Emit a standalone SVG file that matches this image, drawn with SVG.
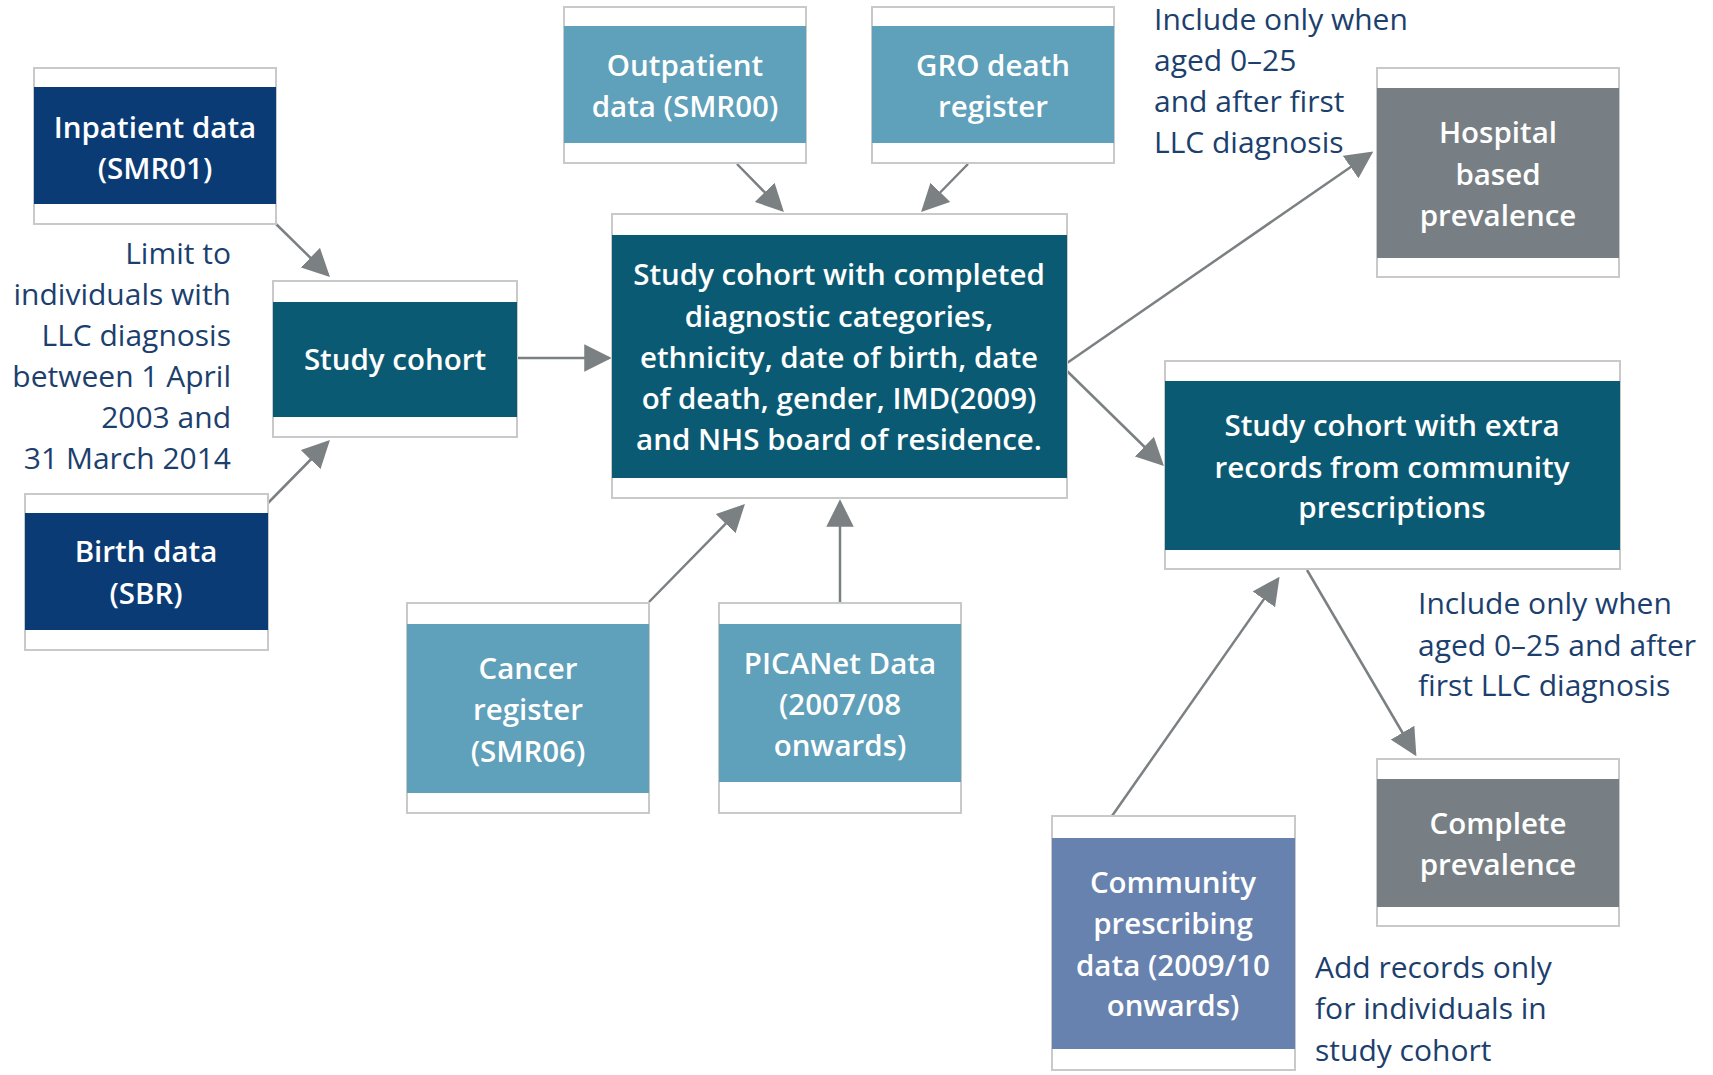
<svg xmlns="http://www.w3.org/2000/svg" width="1713" height="1075" viewBox="0 0 1713 1075">
<style>
.frame{fill:#ffffff;stroke:#c9c9c9;stroke-width:2}
.navy{fill:#0b3b74}
.teal{fill:#0b5a73}
.light{fill:#5fa0ba}
.gray{fill:#777f84}
.comm{fill:#6782ae}
.nt{font-family:"Open Sans","Liberation Sans",sans-serif;font-weight:600;font-size:29.5px;fill:#ffffff;text-anchor:middle}
.ann{font-family:"Open Sans","Liberation Sans",sans-serif;font-size:30px;fill:#1c3f6e}
.edge{stroke:#7b8083;stroke-width:2.5;fill:none;marker-end:url(#ah)}
</style>
<defs>
<marker id="ah" viewBox="0 0 10 10" refX="9" refY="5" markerWidth="11" markerHeight="11" orient="auto">
<path d="M0,0 L10,5 L0,10 z" fill="#7b8083"/>
</marker>
</defs>
<rect width="1713" height="1075" fill="#ffffff"/>

<g id="connectors">
<path class="edge" d="M276,224 L328,275"/>
<path class="edge" d="M268,503 L328,442"/>
<path class="edge" d="M517,358 L609,358"/>
<path class="edge" d="M737,164 L782,210"/>
<path class="edge" d="M968,164 L923,210"/>
<path class="edge" d="M649,602 L743,506"/>
<path class="edge" d="M840,602 L840,502"/>
<path class="edge" d="M1067,363 L1371,153"/>
<path class="edge" d="M1067,371 L1162,464"/>
<path class="edge" d="M1112,816 L1278,579"/>
<path class="edge" d="M1307,570 L1415,754"/>
</g>

<g id="inpatient">
<rect class="frame" x="34" y="68" width="242" height="156"/>
<rect class="navy" x="34" y="87" width="242" height="117"/>
<text class="nt" x="155" y="138">Inpatient data</text>
<text class="nt" x="155" y="179">(SMR01)</text>
</g>

<g id="birth">
<rect class="frame" x="25" y="494" width="243" height="156"/>
<rect class="navy" x="25" y="513" width="243" height="117"/>
<text class="nt" x="146" y="562">Birth data</text>
<text class="nt" x="146" y="604">(SBR)</text>
</g>

<g id="study">
<rect class="frame" x="273" y="281" width="244" height="156"/>
<rect class="teal" x="273" y="302" width="244" height="115"/>
<text class="nt" x="395" y="370">Study cohort</text>
</g>

<g id="outpatient">
<rect class="frame" x="564" y="7" width="242" height="156"/>
<rect class="light" x="564" y="26" width="242" height="117"/>
<text class="nt" x="685" y="76">Outpatient</text>
<text class="nt" x="685" y="117">data (SMR00)</text>
</g>

<g id="gro">
<rect class="frame" x="872" y="7" width="242" height="156"/>
<rect class="light" x="872" y="26" width="242" height="117"/>
<text class="nt" x="993" y="76">GRO death</text>
<text class="nt" x="993" y="117">register</text>
</g>

<g id="main">
<rect class="frame" x="612" y="214" width="455" height="284"/>
<rect class="teal" x="612" y="235" width="455" height="243"/>
<text class="nt" x="839" y="285">Study cohort with completed</text>
<text class="nt" x="839" y="327">diagnostic categories,</text>
<text class="nt" x="839" y="368">ethnicity, date of birth, date</text>
<text class="nt" x="839" y="409">of death, gender, IMD(2009)</text>
<text class="nt" x="839" y="450">and NHS board of residence.</text>
</g>

<g id="cancer">
<rect class="frame" x="407" y="603" width="242" height="210"/>
<rect class="light" x="407" y="624" width="242" height="169"/>
<text class="nt" x="528" y="679">Cancer</text>
<text class="nt" x="528" y="720">register</text>
<text class="nt" x="528" y="762">(SMR06)</text>
</g>

<g id="picanet">
<rect class="frame" x="719" y="603" width="242" height="210"/>
<rect class="light" x="719" y="624" width="242" height="158"/>
<text class="nt" x="840" y="674">PICANet Data</text>
<text class="nt" x="840" y="715">(2007/08</text>
<text class="nt" x="840" y="756">onwards)</text>
</g>

<g id="hospital">
<rect class="frame" x="1377" y="68" width="242" height="209"/>
<rect class="gray" x="1377" y="88" width="242" height="170"/>
<text class="nt" x="1498" y="143">Hospital</text>
<text class="nt" x="1498" y="185">based</text>
<text class="nt" x="1498" y="226">prevalence</text>
</g>

<g id="extra">
<rect class="frame" x="1165" y="361" width="455" height="208"/>
<rect class="teal" x="1165" y="381" width="455" height="169"/>
<text class="nt" x="1392" y="436">Study cohort with extra</text>
<text class="nt" x="1392" y="478">records from community</text>
<text class="nt" x="1392" y="518">prescriptions</text>
</g>

<g id="complete">
<rect class="frame" x="1377" y="759" width="242" height="167"/>
<rect class="gray" x="1377" y="779" width="242" height="128"/>
<text class="nt" x="1498" y="834">Complete</text>
<text class="nt" x="1498" y="875">prevalence</text>
</g>

<g id="community">
<rect class="frame" x="1052" y="816" width="243" height="254"/>
<rect class="comm" x="1052" y="838" width="243" height="211"/>
<text class="nt" x="1173" y="893">Community</text>
<text class="nt" x="1173" y="934">prescribing</text>
<text class="nt" x="1173" y="976">data (2009/10</text>
<text class="nt" x="1173" y="1016">onwards)</text>
</g>

<g id="labels">
<text class="ann" text-anchor="end"><tspan x="231" y="264">Limit to</tspan><tspan x="231" y="305">individuals with</tspan><tspan x="231" y="346">LLC diagnosis</tspan><tspan x="231" y="387">between 1 April</tspan><tspan x="231" y="428">2003 and</tspan><tspan x="231" y="469">31 March 2014</tspan></text>
<text class="ann"><tspan x="1154" y="30">Include only when</tspan><tspan x="1154" y="71">aged 0–25</tspan><tspan x="1154" y="112">and after first</tspan><tspan x="1154" y="153">LLC diagnosis</tspan></text>
<text class="ann"><tspan x="1418" y="614">Include only when</tspan><tspan x="1418" y="656">aged 0–25 and after</tspan><tspan x="1418" y="696">first LLC diagnosis</tspan></text>
<text class="ann"><tspan x="1315" y="978">Add records only</tspan><tspan x="1315" y="1019">for individuals in</tspan><tspan x="1315" y="1061">study cohort</tspan></text>
</g>
</svg>
